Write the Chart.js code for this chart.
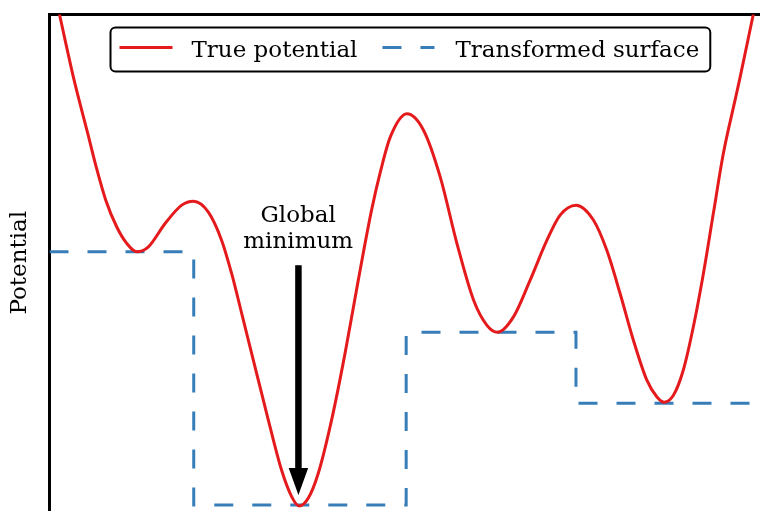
<!DOCTYPE html>
<html>
<head>
<meta charset="utf-8">
<script src="https://cdn.jsdelivr.net/npm/chart.js@4.4.1/dist/chart.umd.min.js"></script>
<style>
  html, body { margin: 0; padding: 0; background: #fff; overflow: hidden; }
  #wrap { width: 760px; height: 511px; }
</style>
</head>
<body>
<div id="wrap"><canvas id="chart"></canvas></div>
<script>
// Potential curve (x: 0..10 across the plot, y: 0..10 bottom to top)
const potX = [0, 0.141, 0.338, 0.432, 0.539, 0.657, 0.792, 0.947, 1.087, 1.228, 1.392, 1.627, 1.861, 2.025,
  2.236, 2.423, 2.564, 2.705, 2.893, 3.080, 3.267, 3.408, 3.512, 3.643, 3.783, 3.970, 4.159, 4.346, 4.533,
  4.662, 4.796, 5.031, 5.264, 5.499, 5.734, 5.968, 6.157, 6.305, 6.530, 6.765, 7.000, 7.187, 7.412, 7.655,
  7.844, 8.031, 8.218, 8.406, 8.547, 8.650, 8.781, 8.921, 9.062, 9.203, 9.343, 9.484, 9.648, 9.719, 9.902, 10];
const potY = [10.91, 10.00, 8.73, 8.19, 7.60, 6.93, 6.26, 5.72, 5.39, 5.22, 5.32, 5.79, 6.16, 6.24,
  6.02, 5.45, 4.78, 3.98, 2.90, 1.83, 0.82, 0.29, 0.10, 0.26, 0.76, 1.83, 3.17, 4.65, 6.06,
  6.86, 7.53, 8.00, 7.67, 6.73, 5.39, 4.25, 3.74, 3.60, 3.91, 4.65, 5.45, 5.96, 6.16, 5.86,
  5.25, 4.38, 3.44, 2.64, 2.30, 2.19, 2.33, 2.84, 3.71, 4.78, 5.99, 7.20, 8.27, 8.73, 9.98, 10.64];

// Transformed (basin-hopping) surface: one flat level per basin
const basinEdges = [0, 2.03, 5.02, 7.41, 10];
const basinLevels = [5.22, 0.12, 3.60, 2.17];

const seriesLabels = ['True potential', 'Transformed surface'];
const yTitle = 'Potential';
const noteLines = ['Global', 'minimum'];
const arrowX = 3.5, arrowTop = 4.95, arrowTip = 0.32;

const RED = '#e41a1c';
const BLUE = '#377eb8';
const FONT = '"DejaVu Serif", serif';

const potPoints = potX.map((x, i) => ({ x: x, y: potY[i] }));
const stepPoints = basinLevels.map((lv, i) => ({ x: basinEdges[i], y: lv }));
stepPoints.push({ x: basinEdges[basinEdges.length - 1], y: basinLevels[basinLevels.length - 1] });

// legend box + annotation drawn over the plot
const overlay = {
  id: 'overlay',
  afterDatasetsDraw(chart) {
    const ctx = chart.ctx;
    const ca = chart.chartArea;
    const sx = chart.scales.x, sy = chart.scales.y;
    ctx.save();

    // annotation arrow
    const ax = sx.getPixelForValue(arrowX);
    const yTop = sy.getPixelForValue(arrowTop);
    const yTip = sy.getPixelForValue(arrowTip);
    const headLen = 27, headHalf = 9.5;
    ctx.fillStyle = '#000';
    ctx.fillRect(ax - 3, yTop, 6.5, (yTip - headLen) - yTop + 1);
    ctx.beginPath();
    ctx.moveTo(ax - headHalf, yTip - headLen);
    ctx.lineTo(ax + headHalf + 0.5, yTip - headLen);
    ctx.lineTo(ax + 0.25, yTip);
    ctx.closePath();
    ctx.fill();

    ctx.font = '23px ' + FONT;
    ctx.textAlign = 'center';
    ctx.textBaseline = 'alphabetic';
    ctx.fillText(noteLines[0], ax, yTop - 43);
    ctx.fillText(noteLines[1], ax, yTop - 17);

    // legend
    ctx.textAlign = 'left';
    const w0 = ctx.measureText(seriesLabels[0]).width;
    const w1 = ctx.measureText(seriesLabels[1]).width;
    const bx = ca.left + 61, by = ca.top + 13, bh = 44;
    const l0 = bx + 9, t0 = l0 + 72;
    const l1 = t0 + w0 + 25, t1 = l1 + 73;
    const bw = t1 + w1 + 11 - bx;
    ctx.beginPath();
    ctx.roundRect(bx, by, bw, bh, 5);
    ctx.fillStyle = '#fff';
    ctx.fill();
    ctx.lineWidth = 2;
    ctx.strokeStyle = '#000';
    ctx.stroke();

    const ly = by + 20;
    ctx.lineWidth = 3;
    ctx.strokeStyle = RED;
    ctx.beginPath(); ctx.moveTo(l0, ly); ctx.lineTo(l0 + 53, ly); ctx.stroke();
    ctx.strokeStyle = BLUE;
    ctx.setLineDash([19, 19]);
    ctx.beginPath(); ctx.moveTo(l1, ly); ctx.lineTo(l1 + 52, ly); ctx.stroke();
    ctx.setLineDash([]);

    ctx.fillStyle = '#000';
    ctx.fillText(seriesLabels[0], t0, by + 29);
    ctx.fillText(seriesLabels[1], t1, by + 29);
    ctx.restore();
  }
};

new Chart(document.getElementById('chart'), {
  type: 'line',
  data: {
    datasets: [
      {
        label: seriesLabels[0],
        data: potPoints,
        borderColor: RED,
        borderWidth: 3,
        pointRadius: 0,
        cubicInterpolationMode: 'monotone',
        clip: 0,
        order: 1
      },
      {
        label: seriesLabels[1],
        data: stepPoints,
        borderColor: BLUE,
        borderWidth: 3,
        borderDash: [19, 19],
        pointRadius: 0,
        stepped: true,
        clip: 0,
        order: 2
      }
    ]
  },
  options: {
    responsive: true,
    maintainAspectRatio: false,
    animation: false,
    layout: { padding: 0 },
    plugins: { legend: { display: false }, tooltip: { enabled: false } },
    scales: {
      x: {
        type: 'linear',
        position: 'top',
        min: 0,
        max: 10,
        grid: { display: false },
        ticks: { display: false },
        border: { display: true, color: '#000', width: 3 },
        afterFit: s => { s.height = 14.5; }
      },
      y: {
        type: 'linear',
        min: 0,
        max: 10,
        grid: { display: false },
        ticks: { display: false },
        border: { display: true, color: '#000', width: 3 },
        title: {
          display: true,
          text: yTitle,
          color: '#000',
          font: { family: FONT, size: 23 },
          padding: { top: 6, bottom: 0 }
        },
        afterFit: s => { s.width = 49.5; }
      }
    }
  },
  plugins: [overlay]
});
</script>
</body>
</html>
